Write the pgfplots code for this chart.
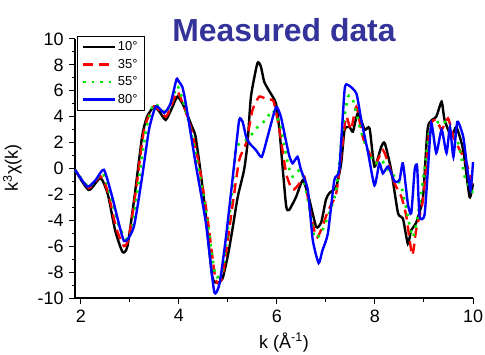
\documentclass[border=0pt]{standalone}
\usepackage{fontspec}
\setmainfont{Liberation Sans}
\usepackage{pgfplots}
\pgfplotsset{compat=1.18}
\definecolor{titleblue}{RGB}{51,51,153}
\definecolor{lgreen}{RGB}{0,230,0}
\begin{document}
\begin{tikzpicture}
\useasboundingbox (-75bp,-57bp) rectangle (410bp,298bp);
\begin{axis}[
  scale only axis, width=398bp, height=259bp,
  at={(0,0)}, anchor=south west,
  xmin=1.88, xmax=10, ymin=-10, ymax=10,
  axis x line*=bottom, axis y line*=left,
  axis line style={line width=1.2bp},
  tick align=outside,
  xtick={2,4,6,8,10}, ytick={-10,-8,...,10},
  minor x tick num=1, minor y tick num=1,
  major tick length=6bp, minor tick length=3.5bp,
  every tick/.style={black, line width=1bp},
  tick label style={font=\fontsize{18}{20}\selectfont},
  /pgf/number format/assume math mode=true,
  xticklabel style={yshift=-2bp},
  yticklabel style={xshift=-2bp},
  legend style={at={(rel axis cs:0.004,1.01)}, anchor=north west,
    font=\fontsize{13}{14}\selectfont, draw=black, line width=0.6bp,
    inner xsep=5bp, inner ysep=4bp, row sep=5bp, legend cell align=left,
    nodes={inner xsep=1.5bp, inner ysep=1bp}},
  legend image code/.code={\draw[#1] (0bp,0bp) -- (32bp,0bp);},
  clip=false,
  every axis plot/.append style={smooth, tension=0.35},
]
\addplot[black, line width=2.4bp] coordinates {
(1.88,-0.1)(2.16,-1.66)(2.40,-0.73)(2.55,-2.0)(2.70,-4.8)(2.85,-6.45)(2.95,-6.0)(3.10,-2.0)(3.25,2.5)(3.35,4.0)(3.49,4.77)(3.60,4.4)(3.73,3.75)(3.85,4.6)(3.97,5.55)
(4.10,4.8)(4.27,3.2)(4.34,2.46)(4.45,-0.5)(4.55,-3.7)(4.68,-8.35)(4.79,-8.85)(4.89,-8.5)(5.00,-6.7)(5.09,-4.75)(5.20,-2.2)(5.33,-0.1)(5.40,1.95)
(5.47,5.55)(5.60,8.12)(5.67,7.9)(5.74,6.7)(5.84,6.0)(5.98,5.03)(6.05,3.0)(6.12,-0.1)(6.19,-2.95)(6.25,-3.2)(6.39,-2.2)(6.53,-0.9)
(6.66,-2.4)(6.80,-4.5)(6.90,-4.2)(7.0,-2.4)(7.07,-1.9)(7.21,-1.4)(7.31,0.4)(7.38,3.0)(7.48,3.2)
(7.55,2.85)(7.65,4.26)(7.79,3.0)(7.89,3.1)(7.99,0.15)(8.13,1.7)(8.20,1.95)(8.33,-0.1)(8.47,-3.45)
(8.57,-3.85)(8.67,-5.8)(8.74,-4.75)(8.84,-4.2)(8.98,-2.2)(9.08,3.2)(9.25,4.0)(9.36,5.16)(9.42,3.75)
(9.56,2.46)(9.66,3.2)(9.80,1.43)(9.93,-2.2)(10.0,-1.15)};
\addlegendentry{10°}
\addplot[red, line width=2.4bp, dash pattern=on 10bp off 6bp] coordinates {
(1.88,-0.1)(2.16,-1.5)(2.40,-0.6)(2.55,-1.8)(2.72,-4.6)(2.88,-6.0)(2.98,-5.3)(3.13,-1.5)(3.29,3.0)(3.49,4.8)(3.73,4.0)(3.85,4.9)(3.97,5.93)(4.10,4.8)(4.24,3.2)
(4.40,0.5)(4.58,-3.7)(4.75,-8.6)(4.89,-8.3)(5.09,-2.95)(5.23,0.65)(5.37,1.95)(5.50,4.5)(5.64,5.55)(5.81,5.3)
(5.93,5.2)(6.05,3.0)(6.19,-0.4)(6.32,-1.66)(6.46,-1.15)(6.56,-0.63)(6.66,-2.95)(6.80,-5.3)(6.90,-4.75)
(7.04,-3.3)(7.21,-1.9)(7.31,1.0)(7.41,4.0)(7.51,3.0)(7.62,4.77)(7.75,2.45)(7.92,0.9)(8.02,0.4)
(8.16,1.43)(8.27,0.4)(8.40,-1.15)(8.54,-2.2)(8.64,-3.7)(8.76,-6.7)(8.84,-4.75)(8.98,-2.4)(9.12,3.2)
(9.25,3.75)(9.36,3.0)(9.49,3.87)(9.60,2.46)(9.73,1.43)(9.87,0.4)(10.0,-1.66)};
\addlegendentry{35°}
\addplot[lgreen, line width=2.6bp, dash pattern=on 2.5bp off 6bp] coordinates {
(1.88,-0.1)(2.16,-1.4)(2.44,-0.37)(2.60,-2.0)(2.78,-4.5)(2.95,-5.5)(3.05,-4.6)(3.18,-1.0)(3.33,3.0)(3.49,5.0)(3.73,4.3)(3.85,5.2)(3.97,6.37)(4.10,5.0)(4.24,2.95)
(4.40,0.0)(4.55,-3.2)(4.74,-8.2)(4.89,-7.8)(5.06,-2.7)(5.16,1.43)(5.26,1.95)(5.37,2.2)(5.50,2.7)(5.64,3.36)
(5.78,3.75)(5.91,4.5)(6.08,3.2)(6.22,0.4)(6.32,-0.63)(6.49,-0.1)(6.63,-2.4)(6.77,-5.3)(6.90,-5.0)
(7.04,-3.7)(7.21,-1.66)(7.34,3.0)(7.45,5.55)(7.55,5.3)(7.69,3.2)(7.82,1.7)(7.99,0.4)(8.13,0.65)
(8.27,-0.1)(8.40,-0.63)(8.54,-1.4)(8.67,-3.7)(8.77,-5.3)(8.87,-3.7)(9.01,-0.1)(9.12,3.2)(9.25,3.5)
(9.39,3.75)(9.53,3.0)(9.66,2.46)(9.76,0.9)(9.83,-0.63)(10.0,-1.9)};
\addlegendentry{55°}
\addplot[blue, line width=2.4bp] coordinates {
(1.88,-0.1)(2.13,-1.4)(2.30,-0.9)(2.47,-0.1)(2.64,-2.2)(2.88,-5.6)(3.08,-4.5)(3.25,-0.63)(3.39,3.0)(3.53,4.8)
(3.70,4.3)(3.83,5.03)(3.95,6.88)(4.00,6.7)(4.07,6.3)(4.14,5.03)(4.34,0.4)(4.55,-4.2)(4.72,-9.5)(4.83,-8.85)
(4.96,-5.3)(5.13,0.4)(5.23,3.75)(5.30,3.6)(5.37,2.46)(5.44,1.95)(5.57,1.43)(5.69,0.9)(5.81,2.46)(5.98,4.73)
(6.08,4.0)(6.18,2.2)(6.25,1.0)(6.32,0.4)(6.42,0.9)(6.49,-0.1)(6.63,-1.66)(6.73,-5.5)(6.85,-7.3)(6.93,-6.3)
(7.04,-5.0)(7.17,-0.9)(7.27,-0.1)(7.38,6.06)(7.45,6.45)(7.62,5.8)(7.72,3.75)(7.86,1.2)(7.99,-1.3)
(8.09,0.4)(8.16,-0.37)(8.27,0.15)(8.40,-1.0)(8.50,-0.9)(8.57,0.4)(8.67,-2.7)(8.74,-3.45)(8.81,-0.1)
(8.86,0.15)(8.91,-3.7)(9.01,-3.6)(9.08,-0.1)(9.15,3.5)(9.25,1.2)(9.36,3.0)(9.46,1.2)(9.53,3.2)
(9.60,0.9)(9.68,3.6)(9.80,2.46)(9.87,0.4)(9.95,-1.66)(10.0,0.5)};
\addlegendentry{80°}
\end{axis}
\node[font=\fontsize{32}{34}\selectfont\bfseries, text=titleblue, anchor=base] at (209bp,256bp) {Measured data};
\node[font=\fontsize{18}{20}\selectfont, anchor=base] at (209bp,-50bp) {k (Å\textsuperscript{-1})};
\node[font=\fontsize{18}{20}\selectfont, rotate=90, anchor=base] at (-57bp,130bp) {k\textsuperscript{3}χ(k)};
\end{tikzpicture}
\end{document}
